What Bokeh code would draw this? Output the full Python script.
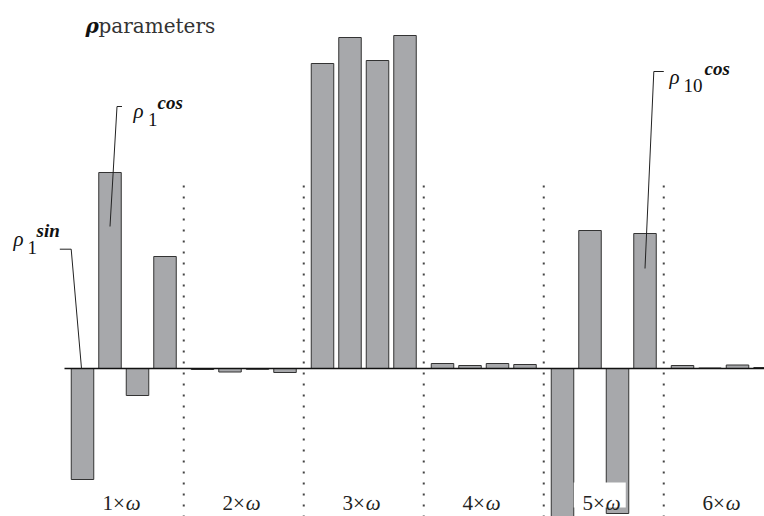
from bokeh.plotting import figure
from bokeh.models import Range1d, ColumnDataSource, Label
from bokeh.embed import file_html
from bokeh.resources import INLINE

# ---------------- data ----------------
group_labels = ["1×", "2×", "3×", "4×", "5×", "6×"]
omega = "ω"
group1 = [-1.11, 1.96, -0.27, 1.12]
group2 = [-0.01, -0.035, -0.008, -0.04]
group3 = [3.05, 3.31, 3.08, 3.33]
group4 = [0.05, 0.03, 0.05, 0.04]
group5 = [-1.62, 1.38, -1.45, 1.35]
group6 = [0.03, 0.005, 0.035, 0.01]
groups = [group1, group2, group3, group4, group5, group6]

title_symbol = "ρ"
title_text = "parameters"

# annotations: (subscript, superscript, group, bar, point value on leader)
annotations = [
    ("1", "sin", 0, 0, 0.0),
    ("1", "cos", 0, 1, 1.42),
    ("10", "cos", 4, 3, 1.0),
]

# ---------------- layout constants ----------------
PX_X = 1 / 27.5      # data units per pixel (x)
PX_Y = 1 / 100.0     # data units per pixel (y)
GROUP_PITCH = 120 * PX_X
BAR_W = 22.5 * PX_X
X0, X1 = -82 * PX_X, 682 * PX_X
Y0, Y1 = -1.48, 3.68

xs, tops, bottoms = [], [], []
for g, vals in enumerate(groups):
    for j, v in enumerate(vals):
        xs.append(g * GROUP_PITCH + j)
        tops.append(max(v, 0.0))
        bottoms.append(min(v, 0.0))

p = figure(width=764, height=516, output_backend="svg", toolbar_location=None,
           x_range=Range1d(X0, X1), y_range=Range1d(Y0, Y1),
           x_axis_type=None, y_axis_type=None, min_border=0)
p.grid.visible = False
p.outline_line_color = None
p.background_fill_color = "white"
p.border_fill_color = "white"

# bars
src = ColumnDataSource(dict(x=xs, top=tops, bottom=bottoms))
p.vbar(x="x", width=BAR_W, top="top", bottom="bottom", source=src,
       fill_color="#a7a8ab", line_color="#333333", line_width=1)

# zero line
p.segment(x0=[xs[0] - 18 * PX_X], y0=[0], x1=[X1], y1=[0],
          line_color="#111111", line_width=1.5)

# dotted separators
sep_x = [g * GROUP_PITCH + 3 + (GROUP_PITCH - 3) / 2 for g in range(len(groups) - 1)]
p.segment(x0=sep_x, y0=[1.83] * len(sep_x), x1=sep_x, y1=[Y0] * len(sep_x),
          line_color="#444444", line_width=2, line_dash="2 9")

# group labels with white boxes
centers = [g * GROUP_PITCH + 1.5 for g in range(len(groups))]
label_y = -1.345
p.rect(x=[c - 4 * PX_X for c in centers], y=[-1.265] * len(centers),
       width=52, height=25, width_units="screen", height_units="screen",
       fill_color="white", line_color=None)


def add_label(x, y, text, font, size, style="normal", align="left", color="#111111"):
    p.add_layout(Label(x=x, y=y, text=text, text_font=font, text_font_size=size,
                       text_font_style=style, text_align=align,
                       text_baseline="alphabetic", text_color=color))


for c, gl in zip(centers, group_labels):
    add_label(c + 1 * PX_X, label_y, gl, "Liberation Serif", "21px", align="right", color="#222222")
    add_label(c + 2 * PX_X, label_y, omega, "Liberation Serif", "21px", style="italic", color="#222222")

# title
add_label(3 * PX_X, 3.43, title_symbol, "DejaVu Serif", "20px", style="bold italic")
add_label(16 * PX_X, 3.43, title_text, "DejaVu Serif", "20px", color="#333333")

# annotation label positions (rho left x, baseline y) and leader corners
label_pos = [(-2.509, 1.30), (1.855, 2.58), (21.345, 2.92)]
corner_pos = [(-0.411, 1.193, -0.825), (1.255, 2.62, 1.436), (20.775, 2.97, 21.138)]
sub_dx = [14, 14.5, 14]
sup_dx = [23, 24, 35]

for (sub, sup, g, j, pv), (lx, ly), (cx, cy, hx), sdx, pdx in zip(
        annotations, label_pos, corner_pos, sub_dx, sup_dx):
    bx = g * GROUP_PITCH + j
    p.line(x=[hx, cx, bx - (1 * PX_X if pv == 0 else 0)], y=[cy, cy, pv],
           line_color="#222222", line_width=1)
    add_label(lx, ly, "ρ", "Liberation Serif", "21px", style="italic")
    add_label(lx + sdx * PX_X, ly - 9 * PX_Y, sub, "Liberation Serif", "19px")
    add_label(lx + pdx * PX_X, ly + 8 * PX_Y, sup, "Liberation Serif", "19px", style="bold italic")

open("out.html", "w").write(file_html(p, INLINE))
